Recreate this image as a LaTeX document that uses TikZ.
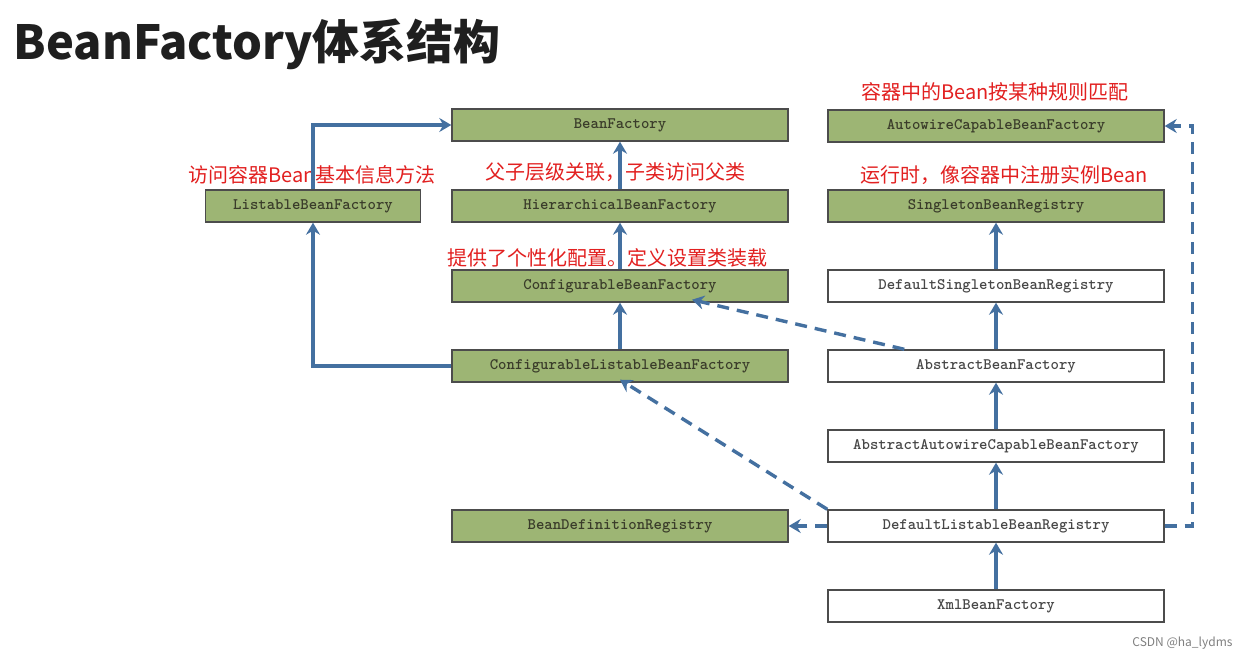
\documentclass[tikz,border=0pt]{standalone}
\usepackage{fontspec}
\newfontfamily\cjk{Noto Sans CJK SC}
\usetikzlibrary{arrows.meta}
\definecolor{boxgreen}{RGB}{157,181,116}
\definecolor{linkblue}{RGB}{68,112,160}
\definecolor{notered}{RGB}{226,32,32}
\definecolor{boxtext}{RGB}{58,60,42}

\begin{document}
\begin{tikzpicture}[x=1pt,y=-1pt,
	iface/.style={draw=black!70,line width=1.4pt,fill=boxgreen,minimum width=336pt,minimum height=32pt,inner sep=0pt,font=\fontsize{16}{18}\selectfont\ttfamily\bfseries,text=boxtext},
	impl/.style={iface,fill=white,text=black!72},
	note/.style={text=notered,font=\cjk\fontsize{20}{23}\selectfont,inner sep=0pt},
	link/.style={draw=linkblue,line width=3.4pt,-{Stealth[length=12pt,width=14pt,inset=4pt]}},
	dlink/.style={link,dash pattern=on 12pt off 8pt}]
	\useasboundingbox[fill=white] (0,0) rectangle (1248,661);
	
	\node[anchor=west,font=\cjk\bfseries\fontsize{47}{52}\selectfont,text=black!88] (title) at (10,44) {BeanFactory体系结构};
	
	% interfaces
	\node[iface] (bf) at (620,125) {BeanFactory};
	\node[iface,minimum width=215pt] (lbf) at (313,206) {ListableBeanFactory};
	\node[iface] (hbf) at (620,206) {HierarchicalBeanFactory};
	\node[iface] (cbf) at (620,286) {ConfigurableBeanFactory};
	\node[iface] (clbf) at (620,366) {ConfigurableListableBeanFactory};
	\node[iface] (bdr) at (620,526) {BeanDefinitionRegistry};
	\node[iface] (acbf) at (996,126) {AutowireCapableBeanFactory};
	\node[iface] (sbr) at (996,206) {SingletonBeanRegistry};
	
	% classes
	\node[impl] (dsbr) at (996,286) {DefaultSingletonBeanRegistry};
	\node[impl] (abf) at (996,366) {AbstractBeanFactory};
	\node[impl] (aacbf) at (996,446) {AbstractAutowireCapableBeanFactory};
	\node[impl] (dlbr) at (996,526) {DefaultListableBeanRegistry};
	\node[impl] (xbf) at (996,606) {XmlBeanFactory};
	
	% notes
	\node[note] (n1) at (312,175) {访问容器Bean基本信息方法};
	\node[note] (n2) at (615,172) {父子层级关联，子类访问父类};
	\node[note] (n3) at (607,258) {提供了个性化配置。定义设置类装载};
	\node[note] (n4) at (995,92) {容器中的Bean按某种规则匹配};
	\node[note] (n5) at (1004,175) {运行时，像容器中注册实例Bean};
	
	% extends
	\draw[link] (lbf.north) |- (bf.west);
	\draw[link] (clbf.west) -| (lbf.south);
	\draw[link] (hbf) -- (bf);
	\draw[link] (cbf) -- (hbf);
	\draw[link] (clbf) -- (cbf);
	\draw[link] (dsbr) -- (sbr);
	\draw[link] (abf) -- (dsbr);
	\draw[link] (aacbf) -- (abf);
	\draw[link] (dlbr) -- (aacbf);
	\draw[link] (xbf) -- (dlbr);
	
	% implements
	\draw[dlink] ([xshift=77pt]abf.north west) -- ([xshift=72pt,yshift=3pt]cbf.south);
	\draw[dlink] (dlbr.north west) -- ([yshift=3pt]clbf.south);
	\draw[dlink] (dlbr.west) -- (bdr.east);
	\draw[dlink] (dlbr.east) -- ++(28,0) |- (acbf.east);
	
	\node[text=black!50,font=\cjk\fontsize{12}{14}\selectfont,anchor=east] (mark) at (1236,643) {CSDN @ha\_lydms};
\end{tikzpicture}
\end{document}
